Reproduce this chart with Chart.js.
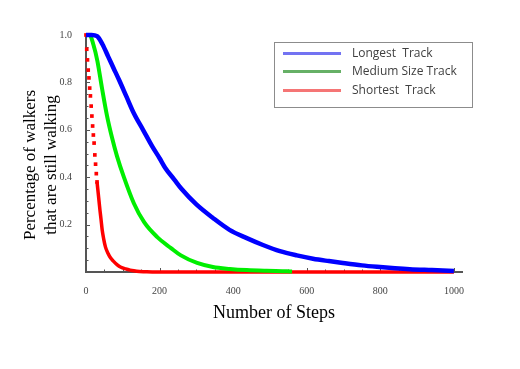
<!DOCTYPE html>
<html>
  <head>
    <title>Walkers Still Walking</title>
    <script src="https://cdn.jsdelivr.net/npm/chart.js"></script>
    <style>
      body {
        background: #fff;
        margin: 0;
      }
      .wrap {
        height: 369px;
        position: relative;
        width: 520px;
      }
      .ytitle {
        color: #000;
        font-family: 'Liberation Serif', serif;
        font-size: 17px;
        height: 42px;
        left: -60.5px;
        line-height: 21px;
        position: absolute;
        text-align: center;
        top: 144px;
        transform: rotate(-90deg);
        white-space: nowrap;
        width: 200px;
      }
      .legend {
        border: 1px solid #8c8c8c;
        color: #404040;
        font-family: 'Open Sans', sans-serif;
        font-size: 12px;
        height: 64px;
        left: 274px;
        position: absolute;
        top: 42px;
        width: 197px;
      }
      .row {
        height: 16px;
        left: 0;
        line-height: 16px;
        position: absolute;
        width: 100%;
      }
      .line {
        height: 3px;
        left: 8px;
        position: absolute;
        top: 7px;
        width: 58px;
      }
      .label {
        left: 77px;
        position: absolute;
        white-space: nowrap;
      }
    </style>
  </head>
  <body>
    <div class="wrap">
      <canvas id="chart" width="520" height="369"></canvas>
      <div class="ytitle">Percentage of walkers<br>that are still walking</div>
      <div class="legend">
        <div class="row" style="top: 2px"><span class="line" style="background: #7373f2"></span><span class="label">Longest&nbsp; Track</span></div>
        <div class="row" style="top: 20px"><span class="line" style="background: #66b066"></span><span class="label">Medium Size Track</span></div>
        <div class="row" style="top: 39px"><span class="line" style="background: #f57575"></span><span class="label">Shortest&nbsp; Track</span></div>
      </div>
    </div>

    <script>
      // Values
      const longSteps = [0, 15, 30, 45, 60, 75, 90, 110, 130, 155, 180, 200, 215, 240, 260, 300, 345, 390, 437, 481, 527, 573, 617, 660, 698, 750, 791, 840, 880, 940, 1000];
      const longValues = [1, 1, 0.995, 0.96, 0.91, 0.86, 0.81, 0.74, 0.67, 0.6, 0.53, 0.48, 0.44, 0.39, 0.35, 0.285, 0.228, 0.178, 0.143, 0.114, 0.088, 0.07, 0.056, 0.046, 0.038, 0.028, 0.022, 0.016, 0.012, 0.008, 0.004];

      const mediumSteps = [0, 10, 20, 31, 43, 57, 71, 84, 103, 130, 158, 193, 231, 258, 302, 345, 391, 437, 490, 546, 560];
      const mediumValues = [1, 1, 0.96, 0.89, 0.78, 0.66, 0.565, 0.49, 0.4, 0.29, 0.21, 0.148, 0.101, 0.07, 0.038, 0.021, 0.013, 0.008, 0.005, 0.003, 0.002];

      const shortSteps = [0, 2, 4, 6, 8, 10, 12, 14, 16, 18, 20, 22, 24, 26, 28, 30, 32, 34, 36, 38, 41, 44, 48, 53, 60, 67, 75, 85, 95, 108, 120, 130, 145, 160, 180, 1000];
      const shortValues = [1, 0.94, 0.895, 0.852, 0.819, 0.776, 0.743, 0.7, 0.658, 0.616, 0.578, 0.544, 0.494, 0.455, 0.415, 0.38, 0.35, 0.32, 0.29, 0.26, 0.22, 0.177, 0.14, 0.105, 0.078, 0.059, 0.045, 0.03, 0.02, 0.013, 0.008, 0.005, 0.002, 0.001, 0, 0];

      const xTickValues = [0, 200, 400, 600, 800, 1000];
      const yTickValues = [0.2, 0.4, 0.6, 0.8, 1.0];
      const yTickLabels = ['0.2', '0.4', '0.6', '0.8', '1.0'];
      const xMinorTicks = [50, 100, 150, 250, 300, 350, 450, 500, 550, 650, 700, 750, 850, 900, 950];
      const yMinorTicks = [0.05, 0.1, 0.15, 0.25, 0.3, 0.35, 0.45, 0.5, 0.55, 0.65, 0.7, 0.75, 0.85, 0.9, 0.95];

      // red points before this index are drawn as separate dots
      const dottedUntil = 16;

      const toPoints = (xs, ys) => xs.map((x, i) => ({ x: x, y: ys[i] }));

      // Small tick marks drawn inside the axes
      const tickMarks = {
        id: 'tickMarks',
        beforeDatasetsDraw(chart) {
          const { ctx, scales: { x, y } } = chart;
          ctx.save();
          ctx.strokeStyle = '#555';
          ctx.lineWidth = 1;
          ctx.beginPath();
          xTickValues.concat(xMinorTicks).forEach(v => {
            const px = Math.round(x.getPixelForValue(v)) + 0.5;
            const len = xTickValues.includes(v) ? 4 : 2.5;
            ctx.moveTo(px, y.bottom);
            ctx.lineTo(px, y.bottom - len);
          });
          yTickValues.concat(yMinorTicks).forEach(v => {
            const py = Math.round(y.getPixelForValue(v)) + 0.5;
            const len = yTickValues.includes(v) ? 4 : 2.5;
            ctx.moveTo(x.left, py);
            ctx.lineTo(x.left + len, py);
          });
          ctx.stroke();
          ctx.restore();
        }
      };

      const ctx = document.getElementById('chart').getContext('2d');

      new Chart(ctx, {
        type: 'scatter',
        data: {
          datasets: [
            {
              label: 'Shortest Track',
              data: toPoints(shortSteps, shortValues),
              showLine: true,
              cubicInterpolationMode: 'monotone',
              borderColor: '#ff0000',
              backgroundColor: '#ff0000',
              borderWidth: 3.5,
              pointStyle: 'rect',
              pointBorderWidth: 0,
              pointRadius: c => (c.dataIndex < dottedUntil ? 2.6 : 0),
              segment: {
                borderColor: c => (c.p0DataIndex < dottedUntil - 1 ? 'transparent' : '#ff0000')
              },
              clip: false,
              order: 3
            },
            {
              label: 'Medium Size Track',
              data: toPoints(mediumSteps, mediumValues),
              showLine: true,
              cubicInterpolationMode: 'monotone',
              borderColor: '#00ee00',
              backgroundColor: '#00ee00',
              borderWidth: 4,
              pointRadius: 0,
              clip: false,
              order: 2
            },
            {
              label: 'Longest Track',
              data: toPoints(longSteps, longValues),
              showLine: true,
              cubicInterpolationMode: 'monotone',
              borderColor: '#0000ff',
              backgroundColor: '#0000ff',
              borderWidth: 4.5,
              pointRadius: 0,
              clip: false,
              order: 1
            }
          ]
        },
        options: {
          responsive: false,
          animation: false,
          devicePixelRatio: 1,
          layout: {
            padding: { top: 35, right: 58, bottom: 45, left: 0 }
          },
          plugins: {
            legend: { display: false },
            tooltip: { enabled: false }
          },
          scales: {
            x: {
              type: 'linear',
              min: 0,
              max: 1022,
              afterFit: s => { s.height = 52; },
              afterBuildTicks: s => { s.ticks = xTickValues.map(v => ({ value: v })); },
              grid: { display: false },
              border: { display: true, color: '#555', width: 2 },
              ticks: {
                padding: 5,
                color: '#444',
                maxRotation: 0,
                font: { family: 'Liberation Serif', size: 10 },
                callback: v => String(v)
              },
              title: {
                display: true,
                text: 'Number of Steps',
                color: '#000',
                padding: 0,
                font: { family: 'Liberation Serif', size: 18 }
              }
            },
            y: {
              min: 0,
              max: 1,
              afterFit: s => { s.width = 86; },
              afterBuildTicks: s => { s.ticks = yTickValues.map(v => ({ value: v })); },
              grid: { display: false },
              border: { display: true, color: '#555', width: 2 },
              ticks: {
                padding: 6,
                color: '#444',
                font: { family: 'Liberation Serif', size: 10 },
                callback: (v, i) => yTickLabels[i]
              }
            }
          }
        },
        plugins: [tickMarks]
      });
    </script>
  </body>
</html>
